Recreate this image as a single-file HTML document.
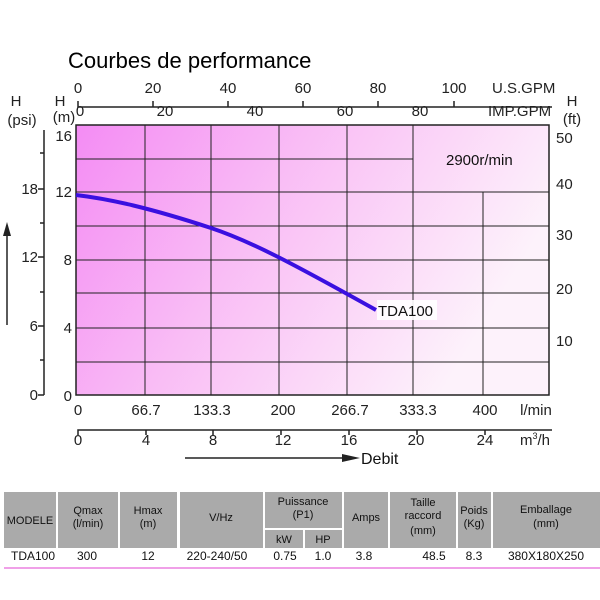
<!DOCTYPE html>
<html><head><meta charset="utf-8"><style>
body{margin:0;background:#fff;}
svg{display:block;font-family:"Liberation Sans",Arial,sans-serif;}
</style></head><body>
<svg width="600" height="600" viewBox="0 0 600 600" xmlns="http://www.w3.org/2000/svg">
<defs>
<linearGradient id="g" x1="0" y1="0" x2="1" y2="0.35">
<stop offset="0" stop-color="#f48cf4"/>
<stop offset="0.45" stop-color="#f9bdf5"/>
<stop offset="1" stop-color="#fdf2fb"/>
</linearGradient>
</defs>
<text x="68" y="68" font-size="22" fill="#000">Courbes de performance</text>
<!-- top axes -->
<g font-size="15" fill="#222">
<text x="78" y="93" text-anchor="middle">0</text>
<text x="153" y="93" text-anchor="middle">20</text>
<text x="228" y="93" text-anchor="middle">40</text>
<text x="303" y="93" text-anchor="middle">60</text>
<text x="378" y="93" text-anchor="middle">80</text>
<text x="454" y="93" text-anchor="middle">100</text>
<text x="492" y="93">U.S.GPM</text>
<text x="80" y="116" text-anchor="middle">0</text>
<text x="165" y="116" text-anchor="middle">20</text>
<text x="255" y="116" text-anchor="middle">40</text>
<text x="345" y="116" text-anchor="middle">60</text>
<text x="420" y="116" text-anchor="middle">80</text>
<text x="488" y="116">IMP.GPM</text>
<text x="16" y="106" text-anchor="middle">H</text>
<text x="22" y="125" text-anchor="middle">(psi)</text>
<text x="60" y="106" text-anchor="middle">H</text>
<text x="64" y="122" text-anchor="middle">(m)</text>
<text x="572" y="106" text-anchor="middle">H</text>
<text x="572" y="124" text-anchor="middle">(ft)</text>
</g>
<path d="M78 101V107H552M153 107V101M228 107V101M303 107V101M378 107V101M454 107V101" stroke="#222" stroke-width="1.5" fill="none"/>
<!-- plot -->
<rect x="76" y="125" width="473" height="270" fill="url(#g)"/>
<g stroke="#222" stroke-width="1" fill="none">
<path d="M76 159H413M76 192H549M76 226H549M76 260H549M76 293H549M76 328H549M76 362H549"/>
<path d="M145 125V395M211 125V395M279 125V395M347 125V395M413 125V395M483 192V395"/>
</g>
<rect x="76" y="125" width="473" height="270" fill="none" stroke="#222" stroke-width="1.5"/>
<path d="M76 195 C110 199 150 208 211 228 C250 241 290 262 376 310" stroke="#3a10e0" stroke-width="4" fill="none"/>
<rect x="377" y="300" width="60" height="20" fill="#fff" opacity="0.9"/>
<text x="378" y="316" font-size="15" fill="#111">TDA100</text>
<text x="446" y="165" font-size="15" fill="#111">2900r/min</text>
<!-- left axes -->
<g font-size="15" fill="#222" text-anchor="end">
<text x="72" y="141">16</text><text x="72" y="197">12</text><text x="72" y="265">8</text>
<text x="72" y="333">4</text><text x="72" y="401">0</text>
<text x="38" y="194">18</text><text x="38" y="262">12</text><text x="38" y="331">6</text><text x="38" y="400">0</text>
</g>
<path d="M44 130V395M38 395H44M38 326H44M38 257H44M38 189H44M40 153H44M40 223H44M40 292H44M40 360H44" stroke="#222" stroke-width="1.5" fill="none"/>
<path d="M7 325V232" stroke="#222" stroke-width="1.5"/>
<path d="M3 236L7 222L11 236Z" fill="#222"/>
<!-- right axis labels -->
<g font-size="15" fill="#222">
<text x="556" y="143">50</text><text x="556" y="189">40</text><text x="556" y="240">30</text>
<text x="556" y="294">20</text><text x="556" y="346">10</text>
</g>
<!-- bottom axes -->
<g font-size="15" fill="#222" text-anchor="middle">
<text x="78" y="415">0</text><text x="146" y="415">66.7</text><text x="212" y="415">133.3</text>
<text x="283" y="415">200</text><text x="350" y="415">266.7</text><text x="418" y="415">333.3</text>
<text x="485" y="415">400</text><text x="536" y="415">l/min</text>
<text x="78" y="445">0</text><text x="146" y="445">4</text><text x="213" y="445">8</text>
<text x="283" y="445">12</text><text x="349" y="445">16</text><text x="416" y="445">20</text>
<text x="485" y="445">24</text><text x="535" y="445">m<tspan font-size="9" dy="-6">3</tspan><tspan dy="6">/h</tspan></text>
</g>
<path d="M78 435V430H552M146 430V435M213 430V435M281 430V435M349 430V435M417 430V435M485 430V435" stroke="#222" stroke-width="1.5" fill="none"/>
<path d="M185 458H348" stroke="#222" stroke-width="1.5"/>
<path d="M342 454L360 458L342 462Z" fill="#222"/>
<text x="361" y="464" font-size="16" fill="#111">Debit</text>
<!-- table -->
<g fill="#aaa">
<rect x="4" y="492" width="52" height="56"/><rect x="58" y="492" width="60" height="56"/>
<rect x="120" y="492" width="57" height="56"/><rect x="180" y="492" width="83" height="56"/>
<rect x="265" y="492" width="77" height="36"/><rect x="265" y="530" width="38" height="18"/>
<rect x="305" y="530" width="37" height="18"/><rect x="344" y="492" width="44" height="56"/>
<rect x="390" y="492" width="66" height="56"/><rect x="458" y="492" width="33" height="56"/>
<rect x="493" y="492" width="107" height="56"/>
</g>
<g font-size="11" fill="#111" text-anchor="middle">
<text x="30" y="524">MODELE</text>
<text x="88" y="514">Qmax</text><text x="88" y="527">(l/min)</text>
<text x="148" y="514">Hmax</text><text x="148" y="527">(m)</text>
<text x="221" y="521">V/Hz</text>
<text x="303" y="505">Puissance</text><text x="303" y="518">(P1)</text>
<text x="284" y="543">kW</text><text x="323" y="543">HP</text>
<text x="366" y="521">Amps</text>
<text x="423" y="506">Taille</text><text x="423" y="519">raccord</text><text x="423" y="534">(mm)</text>
<text x="474" y="514">Poids</text><text x="474" y="527">(Kg)</text>
<text x="546" y="513">Emballage</text><text x="546" y="527">(mm)</text>
</g>
<g font-size="12" fill="#111" text-anchor="middle">
<text x="33" y="560">TDA100</text><text x="87" y="560">300</text><text x="148" y="560">12</text>
<text x="217" y="560">220-240/50</text><text x="285" y="560">0.75</text><text x="323" y="560">1.0</text>
<text x="364" y="560">3.8</text><text x="434" y="560">48.5</text><text x="474" y="560">8.3</text>
<text x="546" y="560">380X180X250</text>
</g>
<rect x="4" y="567" width="596" height="2" fill="#f0a0e8"/>
</svg>
</body></html>
